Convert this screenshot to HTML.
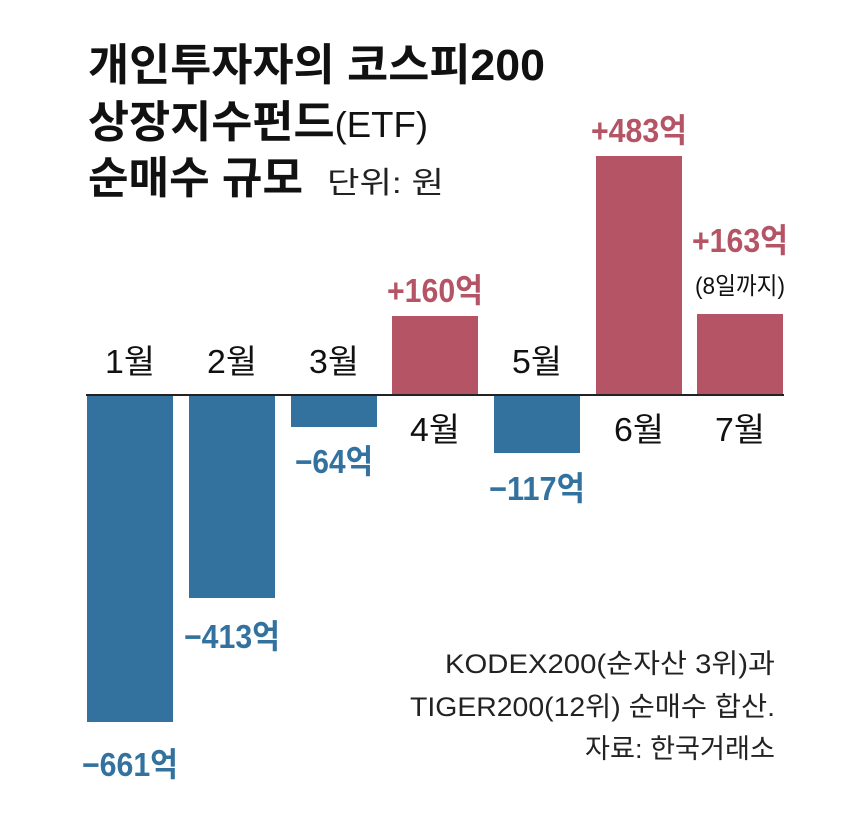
<!DOCTYPE html>
<html><head><meta charset="utf-8"><style>
html,body{margin:0;padding:0;background:#fff;}
svg{display:block;}
text{font-family:"Liberation Sans","Noto Sans CJK KR",sans-serif;}
</style></head><body>
<svg width="860" height="825" viewBox="0 0 860 825" xmlns="http://www.w3.org/2000/svg">
<g font-weight="bold" font-size="44" fill="#111">
<text x="88" y="80" textLength="457" lengthAdjust="spacingAndGlyphs">개인투자자의 코스피200</text>
<text x="88" y="137" textLength="340" lengthAdjust="spacingAndGlyphs">상장지수펀드<tspan font-weight="normal" font-size="36">(ETF)</tspan></text>
<text x="88" y="193" textLength="215" lengthAdjust="spacingAndGlyphs">순매수 규모</text>
</g>
<text x="327" y="193" font-size="30" fill="#222" textLength="117" lengthAdjust="spacingAndGlyphs">단위: 원</text>

<g fill="#33729f">
<rect x="87" y="395" width="86" height="327"/>
<rect x="189" y="395" width="86" height="203"/>
<rect x="291" y="395" width="86" height="32"/>
<rect x="494" y="395" width="86" height="58"/>
</g>
<g fill="#b45465">
<rect x="392" y="316" width="86" height="79"/>
<rect x="596" y="156" width="86" height="239"/>
<rect x="697" y="314" width="86" height="81"/>
</g>
<line x1="86" y1="395" x2="784" y2="395" stroke="#222" stroke-width="2"/>

<g font-size="33" fill="#111" text-anchor="middle">
<text x="130" y="373" textLength="50" lengthAdjust="spacingAndGlyphs">1월</text>
<text x="232" y="373" textLength="50" lengthAdjust="spacingAndGlyphs">2월</text>
<text x="334" y="373" textLength="50" lengthAdjust="spacingAndGlyphs">3월</text>
<text x="435" y="441" textLength="50" lengthAdjust="spacingAndGlyphs">4월</text>
<text x="537" y="373" textLength="50" lengthAdjust="spacingAndGlyphs">5월</text>
<text x="639" y="441" textLength="50" lengthAdjust="spacingAndGlyphs">6월</text>
<text x="740" y="441" textLength="50" lengthAdjust="spacingAndGlyphs">7월</text>
</g>
<g font-size="33" fill="#33729f" text-anchor="middle" font-weight="bold">
<text x="130" y="776" textLength="96" lengthAdjust="spacingAndGlyphs">−661억</text>
<text x="232" y="648" textLength="96" lengthAdjust="spacingAndGlyphs">−413억</text>
<text x="334" y="473" textLength="78" lengthAdjust="spacingAndGlyphs">−64억</text>
<text x="537" y="500" textLength="96" lengthAdjust="spacingAndGlyphs">−117억</text>
</g>
<g font-size="33" fill="#b45465" text-anchor="middle" font-weight="bold">
<text x="435" y="302" textLength="96" lengthAdjust="spacingAndGlyphs">+160억</text>
<text x="639" y="142" textLength="96" lengthAdjust="spacingAndGlyphs">+483억</text>
<text x="740" y="252" textLength="96" lengthAdjust="spacingAndGlyphs">+163억</text>
</g>
<text x="740" y="294" font-size="24" fill="#111" text-anchor="middle" textLength="90" lengthAdjust="spacingAndGlyphs">(8일까지)</text>

<g font-size="27" fill="#222" text-anchor="end">
<text x="775" y="673" textLength="330" lengthAdjust="spacingAndGlyphs">KODEX200(순자산 3위)과</text>
<text x="775" y="716" textLength="365" lengthAdjust="spacingAndGlyphs">TIGER200(12위) 순매수 합산.</text>
<text x="775" y="758" textLength="190" lengthAdjust="spacingAndGlyphs">자료: 한국거래소</text>
</g>
</svg>
</body></html>
